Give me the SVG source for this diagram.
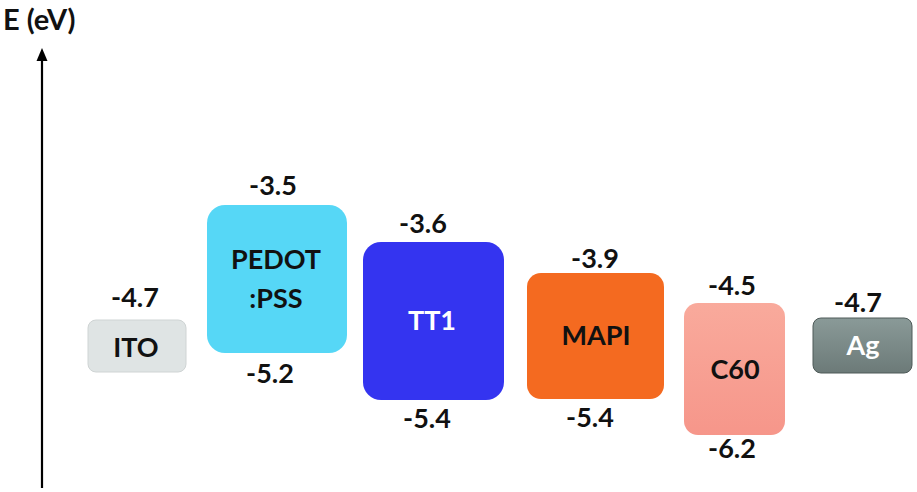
<svg xmlns="http://www.w3.org/2000/svg" width="917" height="492" viewBox="0 0 917 492">
<style>
text{font-family:Lato,"Open Sans","Liberation Sans",sans-serif;font-weight:bold;text-anchor:middle;font-size:27px;fill:#111}
.w{fill:#fff}
</style>
<defs>
<linearGradient id="gC60" x1="0" y1="0" x2="0" y2="1"><stop offset="0" stop-color="#f9aa9c"/><stop offset="1" stop-color="#f6968a"/></linearGradient>
<linearGradient id="gAg" x1="0" y1="0" x2="0" y2="1"><stop offset="0" stop-color="#8a9a98"/><stop offset="1" stop-color="#6c7a78"/></linearGradient>
</defs>
<g id="axis">
<line x1="42" y1="488" x2="42" y2="58" stroke="#000" stroke-width="2.2"/>
<polygon points="42,48 36.5,61 47.5,61" fill="#000"/>
<text x="3" y="30" style="font-size:29px;text-anchor:start">E (eV)</text>
</g>
<g id="ITO">
<rect x="88" y="320" width="98" height="52" rx="8" fill="#dfe4e4" stroke="#cfd4d4"/>
<text x="136" y="357">ITO</text>
<text x="135" y="307">-4.7</text>
</g>
<g id="PEDOT">
<rect x="207" y="205" width="140" height="148" rx="18" fill="#56d7f6"/>
<text x="276" y="269">PEDOT</text>
<text x="276" y="308">:PSS</text>
<text x="273" y="195">-3.5</text>
<text x="270" y="383">-5.2</text>
</g>
<g id="TT1">
<rect x="363" y="242" width="141" height="158" rx="18" fill="#3434f0"/>
<text x="432" y="330" class="w">TT1</text>
<text x="423" y="233">-3.6</text>
<text x="427" y="428">-5.4</text>
</g>
<g id="MAPI">
<rect x="527" y="273" width="137" height="126" rx="14" fill="#f46a20"/>
<text x="596" y="345">MAPI</text>
<text x="595" y="268">-3.9</text>
<text x="590" y="427">-5.4</text>
</g>
<g id="C60">
<rect x="684" y="303" width="101" height="132" rx="14" fill="url(#gC60)"/>
<text x="735" y="379">C60</text>
<text x="732" y="295">-4.5</text>
<text x="732" y="458">-6.2</text>
</g>
<g id="Ag">
<rect x="813" y="318" width="99" height="55" rx="8" fill="url(#gAg)" stroke="#4e5a58"/>
<text x="863" y="355" class="w">Ag</text>
<text x="858" y="312">-4.7</text>
</g>
</svg>
